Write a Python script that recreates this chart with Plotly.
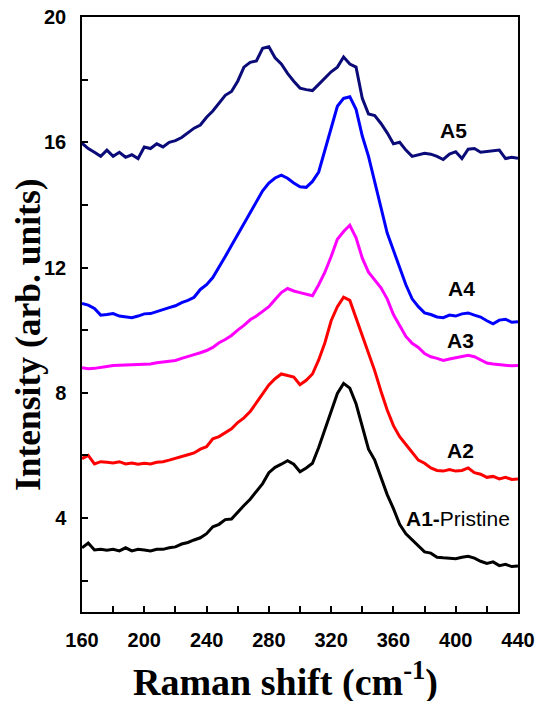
import plotly.graph_objects as go

raman_shift = list(range(160, 441, 4))

a1 = [3.05, 3.2, 2.98, 3.0, 2.97, 3.0, 2.95, 3.05, 2.95, 3.0, 2.98, 2.95, 3.0, 3.0, 3.05, 3.08,
      3.17, 3.22, 3.3, 3.37, 3.5, 3.72, 3.8, 3.95, 3.97, 4.2, 4.4, 4.6, 4.85, 5.1, 5.45, 5.62,
      5.72, 5.83, 5.72, 5.48, 5.6, 5.75, 6.25, 6.85, 7.45, 7.98, 8.3, 8.15, 7.65, 6.95, 6.2, 5.85,
      5.3, 4.75, 4.3, 3.8, 3.5, 3.3, 3.12, 2.92, 2.88, 2.75, 2.73, 2.72, 2.7, 2.75, 2.78, 2.72,
      2.62, 2.55, 2.6, 2.48, 2.52, 2.45, 2.47]
a2 = [5.9, 6.0, 5.73, 5.8, 5.78, 5.76, 5.8, 5.73, 5.76, 5.72, 5.75, 5.73, 5.78, 5.8, 5.85, 5.9,
      5.95, 6.02, 6.08, 6.2, 6.28, 6.53, 6.6, 6.72, 6.85, 7.05, 7.2, 7.4, 7.68, 7.95, 8.25, 8.45,
      8.6, 8.55, 8.5, 8.26, 8.4, 8.6, 9.05, 9.6, 10.3, 10.75, 11.05, 10.95, 10.4, 9.8, 9.25, 8.7,
      8.05, 7.45, 6.95, 6.6, 6.35, 6.1, 5.85, 5.75, 5.6, 5.52, 5.5, 5.55, 5.5, 5.52, 5.6, 5.45,
      5.4, 5.3, 5.33, 5.25, 5.3, 5.23, 5.25]
a3 = [8.8, 8.77, 8.78, 8.82, 8.84, 8.87, 8.88, 8.9, 8.9, 8.92, 8.93, 8.92, 8.96, 8.98, 9.0, 9.03,
      9.1, 9.15, 9.22, 9.28, 9.35, 9.45, 9.6, 9.7, 9.83, 10.0, 10.15, 10.33, 10.45, 10.6, 10.75, 10.98,
      11.2, 11.33, 11.25, 11.2, 11.15, 11.1, 11.45, 11.85, 12.35, 12.9, 13.15, 13.35, 12.95, 12.3, 11.85, 11.6,
      11.35, 11.0, 10.5, 10.15, 9.8, 9.58, 9.45, 9.25, 9.15, 9.1, 9.03, 9.08, 9.12, 9.15, 9.2, 9.15,
      9.05, 8.95, 8.92, 8.9, 8.87, 8.86, 8.87]
a4 = [10.85, 10.8, 10.69, 10.48, 10.5, 10.53, 10.45, 10.43, 10.4, 10.45, 10.52, 10.53, 10.6, 10.65, 10.72, 10.78,
      10.88, 10.95, 11.05, 11.3, 11.45, 11.68, 12.0, 12.35, 12.7, 13.05, 13.4, 13.78, 14.1, 14.45, 14.7, 14.86,
      14.95, 14.85, 14.7, 14.58, 14.56, 14.75, 15.05, 15.75, 16.5, 17.15, 17.4, 17.45, 17.05, 16.2, 15.55, 14.75,
      13.9, 13.1, 12.55, 12.0, 11.45, 11.0, 10.75, 10.55, 10.5, 10.42, 10.4, 10.48, 10.45, 10.52, 10.55, 10.48,
      10.42, 10.3, 10.2, 10.32, 10.35, 10.25, 10.27]
a5 = [15.97, 15.8, 15.68, 15.55, 15.75, 15.55, 15.68, 15.52, 15.6, 15.48, 15.85, 15.8, 15.95, 15.85, 16.0, 16.05,
      16.15, 16.3, 16.45, 16.55, 16.8, 17.0, 17.25, 17.5, 17.62, 17.95, 18.4, 18.55, 18.6, 19.0, 19.05, 18.7,
      18.5, 18.2, 17.95, 17.73, 17.68, 17.65, 17.85, 18.05, 18.25, 18.4, 18.72, 18.5, 18.4, 17.4, 16.9, 16.85,
      16.6, 16.3, 15.95, 16.0, 15.75, 15.55, 15.6, 15.65, 15.62, 15.55, 15.45, 15.62, 15.7, 15.48, 15.78, 15.8,
      15.68, 15.7, 15.72, 15.75, 15.48, 15.52, 15.49]

series_names = ["A1-Pristine", "A2", "A3", "A4", "A5"]
series_values = [a1, a2, a3, a4, a5]
series_colors = ["#000000", "#ff0000", "#ff00ff", "#0000ff", "#0a0a78"]

label_texts = ["<b>A1-</b>Pristine", "<b>A2</b>", "<b>A3</b>", "<b>A4</b>", "<b>A5</b>"]
label_x = [401.5, 402.8, 402.8, 404, 398.3]
label_y = [4.0, 6.15, 9.67, 11.33, 16.39]

x_title = "<b>Raman shift (cm<sup>-1</sup>)</b>"
y_title = "<b>Intensity (arb. units)</b>"

fig = go.Figure()
for name, vals, col in zip(series_names, series_values, series_colors):
    fig.add_trace(go.Scatter(x=raman_shift, y=vals, mode="lines", name=name,
                             line=dict(color=col, width=3), showlegend=False))

for t, lx, ly in zip(label_texts, label_x, label_y):
    fig.add_annotation(x=lx, y=ly, xref="x", yref="y", text=t, showarrow=False,
                       font=dict(family="Liberation Sans, Arial", size=21, color="black"))

serif = "Liberation Serif, Times New Roman, serif"
fig.add_annotation(x=0.4656, y=-0.114, xref="paper", yref="paper", text=x_title,
                   showarrow=False, xanchor="center", yanchor="middle",
                   font=dict(family=serif, size=38, color="black"))
fig.add_annotation(x=-0.124, y=0.467, xref="paper", yref="paper", text=y_title,
                   showarrow=False, xanchor="center", yanchor="middle", textangle=-90,
                   font=dict(family=serif, size=35.5, color="black"))

tickfont = dict(family="Liberation Sans, Arial", size=20, color="black", weight="bold")
axis_common = dict(showline=True, linecolor="black", linewidth=1.5, mirror=True,
                   ticks="inside", ticklen=6, tickwidth=1.5, tickcolor="black",
                   showgrid=False, zeroline=False, automargin=False,
                   tickfont=tickfont)

fig.update_xaxes(range=[160, 440], tick0=160, dtick=40,
                 minor=dict(ticks="inside", ticklen=6, tickwidth=1.5, tickcolor="black", dtick=20, tick0=160),
                 ticklabelstandoff=9,
                 **axis_common)
fig.update_yaxes(range=[1, 20], tick0=0, dtick=4,
                 minor=dict(ticks="inside", ticklen=6, tickwidth=1.5, tickcolor="black", dtick=2, tick0=0),
                 ticklabelstandoff=10,
                 **axis_common)

fig.update_layout(width=536, height=701, margin=dict(l=82, r=18, t=17, b=89),
                  plot_bgcolor="white", paper_bgcolor="white",
                  font=dict(family="Liberation Sans, Arial", color="black"))

fig.write_html("out.html", config={"displayModeBar": False},
               post_script="document.body.style.margin='0';document.body.style.overflow='hidden';")
